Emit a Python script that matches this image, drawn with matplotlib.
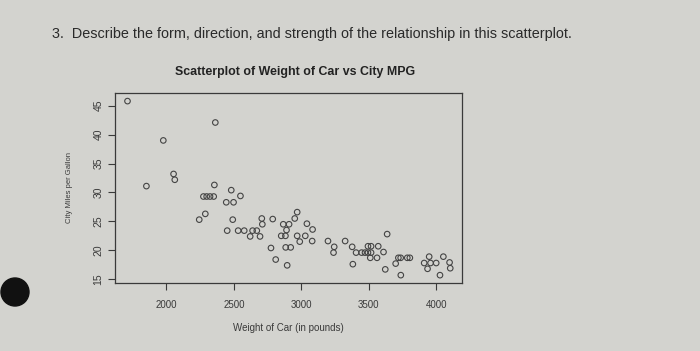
import matplotlib.pyplot as plt
from matplotlib.patches import Ellipse

weight = [1713, 2363, 1978, 2054, 2063, 1853, 2356, 2275, 2299, 2324,
          2351, 2481, 2549, 2444, 2498, 2289, 2244, 2492, 2451, 2532,
          2577, 2639, 2670, 2621, 2694, 2707, 2711, 2788, 2775, 2810,
          2895, 2866, 2909, 2890, 2851, 2882, 2884, 2921, 2951, 2969,
          2969, 2988, 3041, 3083, 3029, 3080, 3197, 3243, 3238, 3324,
          3376, 3405, 3446, 3471, 3493, 3516, 3381, 3493, 3516, 3569,
          3608, 3510, 3560, 3621, 3635, 3718, 3735, 3784, 3803, 3698,
          3736, 3946, 4051, 3909, 3956, 3998, 3934, 4097, 4102, 4026]
mpg = [45.8, 42.1, 39.0, 33.2, 32.2, 31.1, 31.3, 29.3, 29.3, 29.3,
       29.3, 30.4, 29.4, 28.3, 28.3, 26.3, 25.3, 25.3, 23.4, 23.4,
       23.4, 23.4, 23.4, 22.4, 22.4, 25.5, 24.5, 25.4, 20.4, 18.4,
       17.4, 24.5, 24.5, 23.5, 22.5, 22.5, 20.5, 20.5, 25.5, 26.6,
       22.5, 21.5, 24.6, 23.6, 22.5, 21.6, 21.6, 20.6, 19.6, 21.6,
       20.6, 19.6, 19.6, 19.6, 19.6, 19.6, 17.6, 20.7, 20.7, 20.7,
       19.7, 18.7, 18.7, 16.7, 22.8, 18.7, 18.7, 18.7, 18.7, 17.7,
       15.7, 18.9, 18.9, 17.8, 17.8, 17.8, 16.8, 17.9, 16.9, 15.7]

xticks = [2000, 2500, 3000, 3500, 4000]
yticks = [15, 20, 25, 30, 35, 40, 45]

paper = '#d3d3cf'
ink = '#3a3a3a'
plt.rcParams['font.family'] = 'Liberation Sans'

fig = plt.figure(figsize=(7, 3.51), dpi=100, facecolor=paper)
ax = fig.add_axes([0.164, 0.194, 0.496, 0.541])
ax.set_facecolor(paper)

ax.scatter(weight, mpg, s=16, facecolors='none', edgecolors='#444444', linewidths=0.8)

ax.set_xlim(1619, 4189)
ax.set_ylim(14.36, 47.2)
ax.set_xticks(xticks)
ax.set_yticks(yticks)
ax.set_xticklabels([str(t) for t in xticks], fontsize=7, color=ink)
ax.set_yticklabels([str(t) for t in yticks], fontsize=7.5, color=ink,
                   rotation=90, va='center')
ax.tick_params(length=5, width=0.8, color=ink)
ax.tick_params(axis='x', pad=7)
ax.tick_params(axis='y', pad=3)
for s in ax.spines.values():
    s.set_color(ink)
    s.set_linewidth(0.9)

ax.set_xlabel('Weight of Car (in pounds)', fontsize=7, color=ink, labelpad=10)
ax.set_ylabel('City Miles per Gallon', fontsize=5.5, color=ink, labelpad=15)
ax.set_title('Scatterplot of Weight of Car vs City MPG', fontsize=8.9,
             fontweight='bold', color='#222222', pad=13, x=0.52)

fig.text(0.074, 0.903, '3.  Describe the form, direction, and strength of the relationship in this scatterplot.',
         fontsize=10.4, color='#2a2a2a', va='center')

# hole punch on the page
fig.patches.append(Ellipse((15 / 700, 1 - 292 / 351), 28 / 700, 28 / 351,
                           transform=fig.transFigure, color='#111111', zorder=0))

fig.savefig('out.png', dpi=100, facecolor=paper)
